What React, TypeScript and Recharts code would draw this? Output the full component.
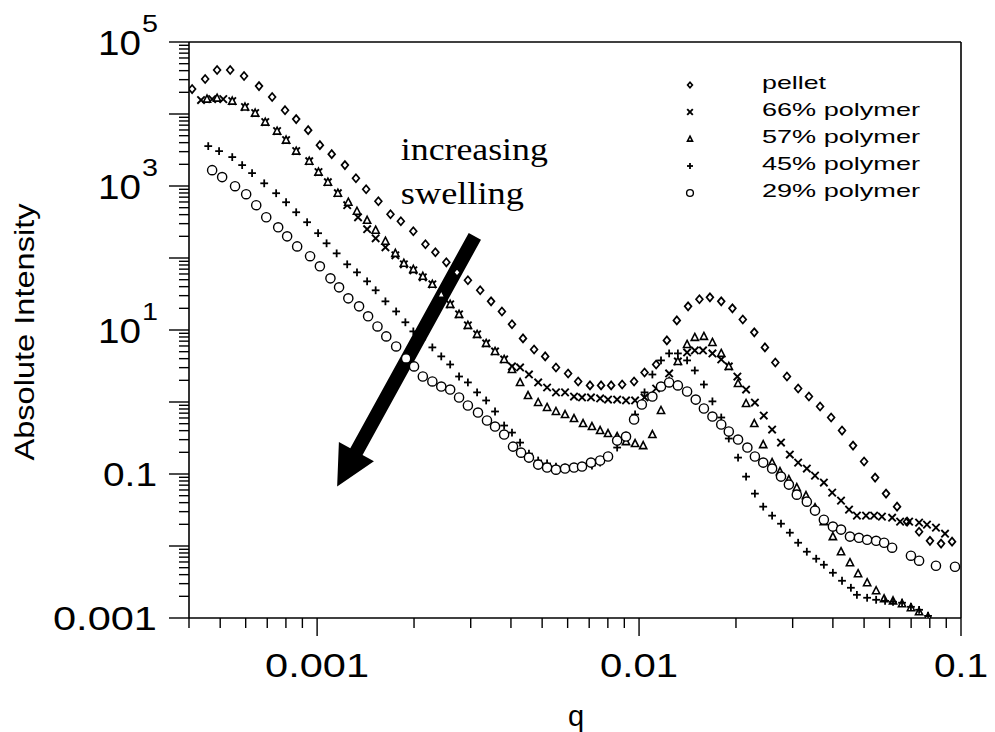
import React from 'react';
import { ScatterChart, Scatter, XAxis, YAxis, ReferenceLine, ReferenceDot, Legend } from 'recharts';

// values (q in 1/A, absolute intensity)
const pelletQ = [4.09e-4, 4.49e-4, 4.89e-4, 5.37e-4, 5.93e-4, 6.6e-4, 7.25e-4, 7.95e-4, 8.61e-4, 9.38e-4, 1.02e-3, 1.11e-3, 1.22e-3, 1.32e-3, 1.42e-3, 1.55e-3, 1.69e-3, 1.82e-3, 1.99e-3, 2.17e-3, 2.33e-3, 2.52e-3, 2.72e-3, 2.94e-3, 3.21e-3, 3.47e-3, 3.75e-3, 4.03e-3, 4.36e-3, 4.72e-3, 5.11e-3, 5.52e-3, 6.02e-3, 6.47e-3, 7.04e-3, 7.62e-3, 8.19e-3, 8.86e-3, 9.65e-3, 1.04e-2, 1.13e-2, 1.22e-2, 1.31e-2, 1.42e-2, 1.54e-2, 1.66e-2, 1.8e-2, 1.95e-2, 2.1e-2, 2.28e-2, 2.46e-2, 2.65e-2, 2.88e-2, 3.12e-2, 3.37e-2, 3.65e-2, 3.95e-2, 4.27e-2, 4.62e-2, 5.0e-2, 5.41e-2, 5.85e-2, 6.33e-2, 6.8e-2, 7.41e-2, 8.01e-2, 8.67e-2, 9.38e-2];
const pelletI = [22200, 30600, 40800, 40800, 33700, 24400, 17200, 11300, 8490, 5970, 3690, 2770, 1950, 1280, 903, 615, 405, 324, 235, 155, 120, 87.1, 63.2, 49.0, 35.6, 25.0, 18.1, 12.0, 7.64, 5.37, 4.3, 3.02, 2.49, 1.93, 1.7, 1.7, 1.7, 1.75, 1.93, 2.57, 3.32, 7.17, 13.6, 21.3, 26.7, 28.4, 25.0, 20.0, 14.0, 9.27, 5.73, 3.54, 2.26, 1.54, 1.19, 0.866, 0.609, 0.401, 0.248, 0.149, 0.0891, 0.0534, 0.0352, 0.0218, 0.0158, 0.0118, 0.0108, 0.0115];

const p66Q = [4.36e-4, 4.72e-4, 5.11e-4, 5.45e-4, 5.97e-4, 6.42e-4, 6.9e-4, 7.51e-4, 8.01e-4, 8.61e-4, 9.45e-4, 1.01e-3, 1.08e-3, 1.16e-3, 1.24e-3, 1.34e-3, 1.43e-3, 1.52e-3, 1.63e-3, 1.75e-3, 1.86e-3, 1.99e-3, 2.13e-3, 2.28e-3, 2.43e-3, 2.59e-3, 2.76e-3, 2.94e-3, 3.14e-3, 3.35e-3, 3.57e-3, 3.81e-3, 4.03e-3, 4.27e-3, 4.55e-3, 4.86e-3, 5.18e-3, 5.52e-3, 5.89e-3, 6.28e-3, 6.65e-3, 7.09e-3, 7.57e-3, 8.01e-3, 8.55e-3, 9.11e-3, 9.72e-3, 1.04e-2, 1.13e-2, 1.24e-2, 1.32e-2, 1.41e-2, 1.49e-2, 1.58e-2, 1.69e-2, 1.8e-2, 1.9e-2, 2.02e-2, 2.15e-2, 2.29e-2, 2.44e-2, 2.59e-2, 2.76e-2, 2.94e-2, 3.12e-2, 3.32e-2, 3.52e-2, 3.75e-2, 3.98e-2, 4.24e-2, 4.49e-2, 4.75e-2, 5.07e-2, 5.37e-2, 5.68e-2, 6.11e-2, 6.47e-2, 6.9e-2, 7.41e-2, 7.84e-2, 8.36e-2, 8.92e-2];
const p66I = [15600, 16100, 16100, 15100, 12500, 10300, 7710, 5780, 4340, 3050, 2210, 1560, 1130, 794, 541, 368, 251, 188, 141, 109, 81.7, 67.4, 53.9, 43.1, 31.3, 22.7, 16.5, 11.6, 8.69, 6.51, 5.04, 3.9, 3.12, 3.02, 2.41, 1.87, 1.59, 1.36, 1.36, 1.19, 1.155, 1.155, 1.12, 1.08, 1.08, 1.05, 1.05, 1.155, 1.54, 2.49, 3.66, 4.88, 5.2, 5.2, 4.73, 3.9, 3.12, 2.26, 1.49, 0.984, 0.649, 0.414, 0.273, 0.186, 0.144, 0.119, 0.095, 0.076, 0.0551, 0.0427, 0.032, 0.0264, 0.0264, 0.0264, 0.0256, 0.0247, 0.0218, 0.0218, 0.0211, 0.0198, 0.018, 0.0148];

const p57Q = [4.55e-4, 4.89e-4, 5.45e-4, 5.97e-4, 6.42e-4, 6.9e-4, 7.51e-4, 8.01e-4, 8.61e-4, 9.45e-4, 1.01e-3, 1.08e-3, 1.16e-3, 1.25e-3, 1.33e-3, 1.43e-3, 1.52e-3, 1.63e-3, 1.75e-3, 1.86e-3, 1.99e-3, 2.13e-3, 2.28e-3, 2.43e-3, 2.59e-3, 2.76e-3, 2.94e-3, 3.14e-3, 3.35e-3, 3.57e-3, 3.81e-3, 4.03e-3, 4.27e-3, 4.52e-3, 4.86e-3, 5.18e-3, 5.52e-3, 5.89e-3, 6.28e-3, 6.7e-3, 7.14e-3, 7.57e-3, 8.01e-3, 8.55e-3, 9.11e-3, 9.72e-3, 1.03e-2, 1.1e-2, 1.17e-2, 1.24e-2, 1.32e-2, 1.41e-2, 1.49e-2, 1.59e-2, 1.69e-2, 1.8e-2, 1.9e-2, 2.03e-2, 2.15e-2, 2.28e-2, 2.43e-2, 2.59e-2, 2.74e-2, 2.92e-2, 3.09e-2, 3.3e-2, 3.52e-2, 3.75e-2, 4.0e-2, 4.24e-2, 4.52e-2, 4.79e-2, 5.11e-2, 5.45e-2, 5.77e-2, 6.15e-2, 6.56e-2, 6.99e-2, 7.41e-2, 7.9e-2];
const p57I = [16100, 16600, 15100, 12500, 10300, 7710, 5780, 4340, 3050, 2210, 1560, 1130, 794, 595, 446, 334, 243, 171, 116, 84.4, 69.6, 55.7, 43.1, 31.3, 22.7, 16.5, 11.6, 8.69, 6.51, 5.04, 3.9, 2.83, 1.87, 1.23, 0.984, 0.839, 0.738, 0.67, 0.589, 0.502, 0.456, 0.401, 0.365, 0.331, 0.282, 0.265, 0.248, 0.353, 0.762, 1.93, 3.66, 6.3, 7.89, 8.15, 6.72, 4.73, 3.12, 1.81, 0.953, 0.502, 0.256, 0.144, 0.108, 0.0836, 0.0647, 0.0501, 0.0341, 0.0218, 0.0135, 0.00833, 0.00586, 0.00412, 0.00309, 0.00239, 0.00185, 0.00173, 0.00158, 0.00139, 0.00122, 0.00104];

const p45Q = [4.59e-4, 4.96e-4, 5.45e-4, 5.85e-4, 6.28e-4, 6.85e-4, 7.46e-4, 8.01e-4, 8.61e-4, 9.31e-4, 1.007e-3, 1.07e-3, 1.15e-3, 1.24e-3, 1.33e-3, 1.43e-3, 1.52e-3, 1.63e-3, 1.76e-3, 1.88e-3, 1.99e-3, 2.12e-3, 2.28e-3, 2.43e-3, 2.59e-3, 2.76e-3, 2.94e-3, 3.14e-3, 3.35e-3, 3.57e-3, 3.81e-3, 4.03e-3, 4.27e-3, 4.55e-3, 4.86e-3, 5.18e-3, 5.52e-3, 5.89e-3, 6.28e-3, 6.7e-3, 7.14e-3, 7.57e-3, 8.07e-3, 8.55e-3, 9.11e-3, 9.72e-3, 1.04e-2, 1.1e-2, 1.17e-2, 1.24e-2, 1.32e-2, 1.41e-2, 1.49e-2, 1.59e-2, 1.69e-2, 1.8e-2, 1.9e-2, 2.03e-2, 2.15e-2, 2.29e-2, 2.43e-2, 2.59e-2, 2.76e-2, 2.94e-2, 3.12e-2, 3.32e-2, 3.55e-2, 3.75e-2, 4.0e-2, 4.27e-2, 4.55e-2, 4.75e-2, 5.11e-2, 5.45e-2, 5.81e-2, 6.15e-2, 6.56e-2, 6.99e-2, 7.41e-2, 7.9e-2];
const p45I = [3580, 3050, 2520, 1950, 1510, 1090, 794, 595, 432, 314, 221, 160, 116, 81.7, 63.2, 47.4, 35.6, 25.0, 18.1, 12.8, 9.56, 7.4, 5.73, 4.3, 3.32, 2.26, 1.87, 1.36, 1.05, 0.738, 0.471, 0.376, 0.273, 0.192, 0.154, 0.14, 0.127, 0.123, 0.123, 0.127, 0.131, 0.144, 0.18, 0.233, 0.342, 0.67, 1.36, 2.41, 3.78, 4.73, 4.73, 3.78, 2.74, 1.75, 1.02, 0.609, 0.311, 0.169, 0.092, 0.0534, 0.0352, 0.0264, 0.0204, 0.0153, 0.0111, 0.00833, 0.00666, 0.00549, 0.00425, 0.00329, 0.00263, 0.0021, 0.00191, 0.00179, 0.00173, 0.00168, 0.00163, 0.00143, 0.0013, 0.00107];

const p29Q = [4.72e-4, 5.07e-4, 5.56e-4, 6.02e-4, 6.47e-4, 6.95e-4, 7.57e-4, 8.07e-4, 8.67e-4, 9.51e-4, 1.02e-3, 1.1e-3, 1.17e-3, 1.25e-3, 1.35e-3, 1.44e-3, 1.54e-3, 1.64e-3, 1.76e-3, 1.89e-3, 2.0e-3, 2.13e-3, 2.28e-3, 2.43e-3, 2.59e-3, 2.76e-3, 2.94e-3, 3.16e-3, 3.37e-3, 3.57e-3, 3.81e-3, 4.06e-3, 4.3e-3, 4.55e-3, 4.86e-3, 5.18e-3, 5.52e-3, 5.89e-3, 6.28e-3, 6.65e-3, 7.09e-3, 7.57e-3, 8.01e-3, 8.55e-3, 9.11e-3, 9.65e-3, 1.02e-2, 1.1e-2, 1.17e-2, 1.24e-2, 1.32e-2, 1.41e-2, 1.5e-2, 1.59e-2, 1.69e-2, 1.8e-2, 1.9e-2, 2.03e-2, 2.17e-2, 2.29e-2, 2.43e-2, 2.59e-2, 2.76e-2, 2.92e-2, 3.09e-2, 3.32e-2, 3.52e-2, 3.75e-2, 4.0e-2, 4.24e-2, 4.52e-2, 4.82e-2, 5.11e-2, 5.45e-2, 5.77e-2, 6.11e-2, 6.99e-2, 7.41e-2, 8.36e-2, 9.58e-2];
const p29I = [1660, 1330, 994, 769, 541, 368, 267, 200, 145, 106, 76.7, 52.2, 39.1, 27.5, 21.3, 15.5, 11.2, 8.15, 5.91, 4.03, 3.12, 2.26, 1.93, 1.64, 1.49, 1.155, 0.894, 0.714, 0.553, 0.456, 0.353, 0.24, 0.198, 0.169, 0.135, 0.123, 0.115, 0.119, 0.123, 0.127, 0.144, 0.154, 0.175, 0.291, 0.331, 0.571, 0.923, 1.19, 1.64, 1.87, 1.7, 1.4, 1.08, 0.812, 0.628, 0.487, 0.389, 0.301, 0.233, 0.175, 0.144, 0.119, 0.092, 0.0712, 0.0517, 0.0413, 0.031, 0.0232, 0.0186, 0.0169, 0.0135, 0.013, 0.0122, 0.0118, 0.0111, 0.00947, 0.00733, 0.00625, 0.00532, 0.00515];

const seriesNames = ['pellet', '66% polymer', '57% polymer', '45% polymer', '29% polymer'];

const xLabelValues = [0.001, 0.01, 0.1];
const xLabelTexts = ['0.001', '0.01', '0.1'];
const yLabelValues = [0.001, 0.1, 10, 1000, 100000];
const yLabelTexts = ['0.001', '0.1', '10^1', '10^3', '10^5'];

// arrow + caption anchors, in data units
const arrowFrom = { x: 3.09e-3, y: 200 };
const arrowTo = { x: 1.154e-3, y: 0.0668 };
const captionAt = { x: 1.82e-3, y: 2280 };

const SANS = '"Liberation Sans", Arial, Helvetica, sans-serif';
const SERIF = '"Liberation Serif", "Times New Roman", serif';

const xTicks = [...[1e-4, 1e-3, 1e-2].flatMap(d => [1, 2, 3, 4, 5, 6, 7, 8, 9].map(m => +(m * d).toPrecision(3))).filter(v => v >= 0.0004), 0.1];
const yTicks = [...[1e-3, 1e-2, 1e-1, 1, 10, 100, 1e3, 1e4].flatMap(d => [1, 2, 3, 4, 5, 6, 7, 8, 9].map(m => +(m * d).toPrecision(3))), 1e5];

const toData = (qs: number[], is: number[]) => qs.map((q, i) => ({ q, I: is[i] }));

const isDecade = (v: number) => Math.abs(Math.log10(v) - Math.round(Math.log10(v))) < 1e-6;
const findIdx = (arr: number[], v: number) => arr.findIndex(a => Math.abs(Math.log10(a) - Math.log10(v)) < 1e-6);

const labelWidth: Record<string, number> = { '0.001': 104, '0.01': 78, '0.1': 54 };

function XTick(props: any) {
  const { x, y, payload } = props;
  const v = payload.value;
  const major = isDecade(v);
  const idx = findIdx(xLabelValues, v);
  return (
    <g>
      <line x1={x} y1={y} x2={x} y2={y + (major ? 18 : 10)} stroke="#000" strokeWidth={1.4} />
      {idx >= 0 && (
        <text x={x} y={y + 59} textAnchor="middle" fontFamily={SANS} fontSize={33} fill="#000"
          textLength={labelWidth[xLabelTexts[idx]]} lengthAdjust="spacingAndGlyphs">{xLabelTexts[idx]}</text>
      )}
    </g>
  );
}

function YTick(props: any) {
  const { x, y, payload } = props;
  const v = payload.value;
  const major = isDecade(v);
  const idx = findIdx(yLabelValues, v);
  const t = idx >= 0 ? yLabelTexts[idx] : '';
  let label = null;
  if (t.startsWith('10^')) {
    label = (
      <g fontFamily={SANS} fill="#000">
        <text x={x - 48} y={y + 13} textAnchor="end" fontSize={35} textLength={43} lengthAdjust="spacingAndGlyphs">10</text>
        <text x={x - 47} y={y - 10} fontSize={23} textLength={16} lengthAdjust="spacingAndGlyphs">{t.slice(3)}</text>
      </g>
    );
  } else if (t) {
    label = (
      <text x={x - 32} y={y + 12} textAnchor="end" fontFamily={SANS} fontSize={33} fill="#000"
        textLength={labelWidth[t]} lengthAdjust="spacingAndGlyphs">{t}</text>
    );
  }
  return (
    <g>
      <line x1={x} y1={y} x2={x - (major ? 20 : 10)} y2={y} stroke="#000" strokeWidth={1.4} />
      {label}
    </g>
  );
}

type M = { cx?: number; cy?: number; s?: number };

const Diamond = ({ cx = 0, cy = 0, s = 4 }: M) => (
  <polygon points={`${cx},${cy - s} ${cx + s * 0.85},${cy} ${cx},${cy + s} ${cx - s * 0.85},${cy}`} fill="#fff" stroke="#000" strokeWidth={1.7} />
);
const Cross = ({ cx = 0, cy = 0, s = 3.7 }: M) => (
  <g stroke="#000" strokeWidth={1.9}>
    <line x1={cx - s} y1={cy - s} x2={cx + s} y2={cy + s} />
    <line x1={cx - s} y1={cy + s} x2={cx + s} y2={cy - s} />
  </g>
);
const Tri = ({ cx = 0, cy = 0, s = 4 }: M) => (
  <polygon points={`${cx},${cy - s} ${cx + s * 0.9},${cy + s * 0.75} ${cx - s * 0.9},${cy + s * 0.75}`} fill="#fff" stroke="#000" strokeWidth={1.6} />
);
const Plus = ({ cx = 0, cy = 0, s = 3.9 }: M) => (
  <g stroke="#000" strokeWidth={1.8}>
    <line x1={cx - s} y1={cy} x2={cx + s} y2={cy} />
    <line x1={cx} y1={cy - s} x2={cx} y2={cy + s} />
  </g>
);
const Ring = ({ cx = 0, cy = 0, s = 4.6 }: M) => (
  <circle cx={cx} cy={cy} r={s} fill="#fff" stroke="#000" strokeWidth={1.4} />
);

const markers = [Diamond, Cross, Tri, Plus, Ring];
const legendSizes = [2.8, 2.8, 2.8, 3, 3.4];

function Arrow(p: any) {
  const { x1, y1, x2, y2 } = p;
  const dx = x2 - x1, dy = y2 - y1, L = Math.hypot(dx, dy);
  const ux = dx / L, uy = dy / L, nx = -uy, ny = ux;
  const hl = 40, hw = 20, sw = 7;
  const bx = x2 - ux * hl, by = y2 - uy * hl;
  const pts = [
    [x1 + nx * sw, y1 + ny * sw], [bx + nx * sw, by + ny * sw], [bx + nx * hw, by + ny * hw], [x2, y2],
    [bx - nx * hw, by - ny * hw], [bx - nx * sw, by - ny * sw], [x1 - nx * sw, y1 - ny * sw],
  ];
  return <polygon points={pts.map(a => a.join(',')).join(' ')} fill="#000" />;
}

function Caption(p: any) {
  return (
    <g fontFamily={SERIF} fontSize={31} fill="#000">
      <text x={p.cx} y={p.cy} textLength={147} lengthAdjust="spacingAndGlyphs">increasing</text>
      <text x={p.cx} y={p.cy + 44} textLength={123} lengthAdjust="spacingAndGlyphs">swelling</text>
    </g>
  );
}

const renderLegend = () => (
  <svg width={270} height={145} style={{ display: 'block' }}>
    {seriesNames.map((name, i) => {
      const base = 24 + i * 27;
      const Mk = markers[i];
      return (
        <g key={name}>
          <Mk cx={20} cy={base - 4} s={legendSizes[i]} />
          <text x={92} y={base} fontFamily={SANS} fontSize={19} fill="#000"
            textLength={name === 'pellet' ? 64 : 158} lengthAdjust="spacingAndGlyphs">{name}</text>
        </g>
      );
    })}
  </svg>
);

const YTitle = (p: any) => {
  const vb = p.viewBox;
  return (
    <text transform={`translate(${vb.x + 34}, ${vb.y + vb.height / 2 + 2}) rotate(-90)`} textAnchor="middle"
      fontFamily={SANS} fontSize={28} fill="#000" textLength={257} lengthAdjust="spacingAndGlyphs">Absolute Intensity</text>
  );
};
const XTitle = (p: any) => {
  const vb = p.viewBox;
  return (
    <text x={vb.x + vb.width / 2 + 1} y={vb.y + 108} textAnchor="middle" fontFamily={SANS} fontSize={29} fill="#000">q</text>
  );
};

const allData = [toData(pelletQ, pelletI), toData(p66Q, p66I), toData(p57Q, p57I), toData(p45Q, p45I), toData(p29Q, p29I)];

export default function App() {
  return (
    <div>
      <style>{'body{margin:0;background:#fff}'}</style>
      <ScatterChart width={995} height={732} margin={{ top: 42, right: 34, bottom: 54, left: 0 }}>
        <XAxis type="number" dataKey="q" scale="log" domain={[0.0004, 0.1]} allowDataOverflow
          ticks={xTicks} interval={0} tick={XTick} tickLine={false} tickSize={0} tickMargin={0} height={60}
          axisLine={{ stroke: '#000', strokeWidth: 1.6 }} label={{ content: XTitle }} />
        <YAxis type="number" dataKey="I" scale="log" domain={[0.001, 100000]} allowDataOverflow
          ticks={yTicks} interval={0} tick={YTick} tickLine={false} tickSize={0} tickMargin={0} width={189}
          axisLine={{ stroke: '#000', strokeWidth: 1.6 }} label={{ content: YTitle }} />
        <ReferenceLine y={100000} stroke="#000" strokeWidth={1.6} />
        <ReferenceLine x={0.1} stroke="#000" strokeWidth={1.6} />
        <ReferenceLine segment={[arrowFrom, arrowTo]} shape={Arrow} />
        <ReferenceDot x={captionAt.x} y={captionAt.y} shape={Caption} />
        {allData.map((d, i) => {
          const Mk = markers[i];
          return (
            <Scatter key={seriesNames[i]} name={seriesNames[i]} data={d} isAnimationActive={false}
              shape={(p: any) => <Mk cx={p.cx} cy={p.cy} />} />
          );
        })}
        <Legend layout="vertical" align="center" verticalAlign="middle" content={renderLegend}
          wrapperStyle={{ left: 670, top: 65, width: 270, height: 145 }} />
      </ScatterChart>
    </div>
  );
}
